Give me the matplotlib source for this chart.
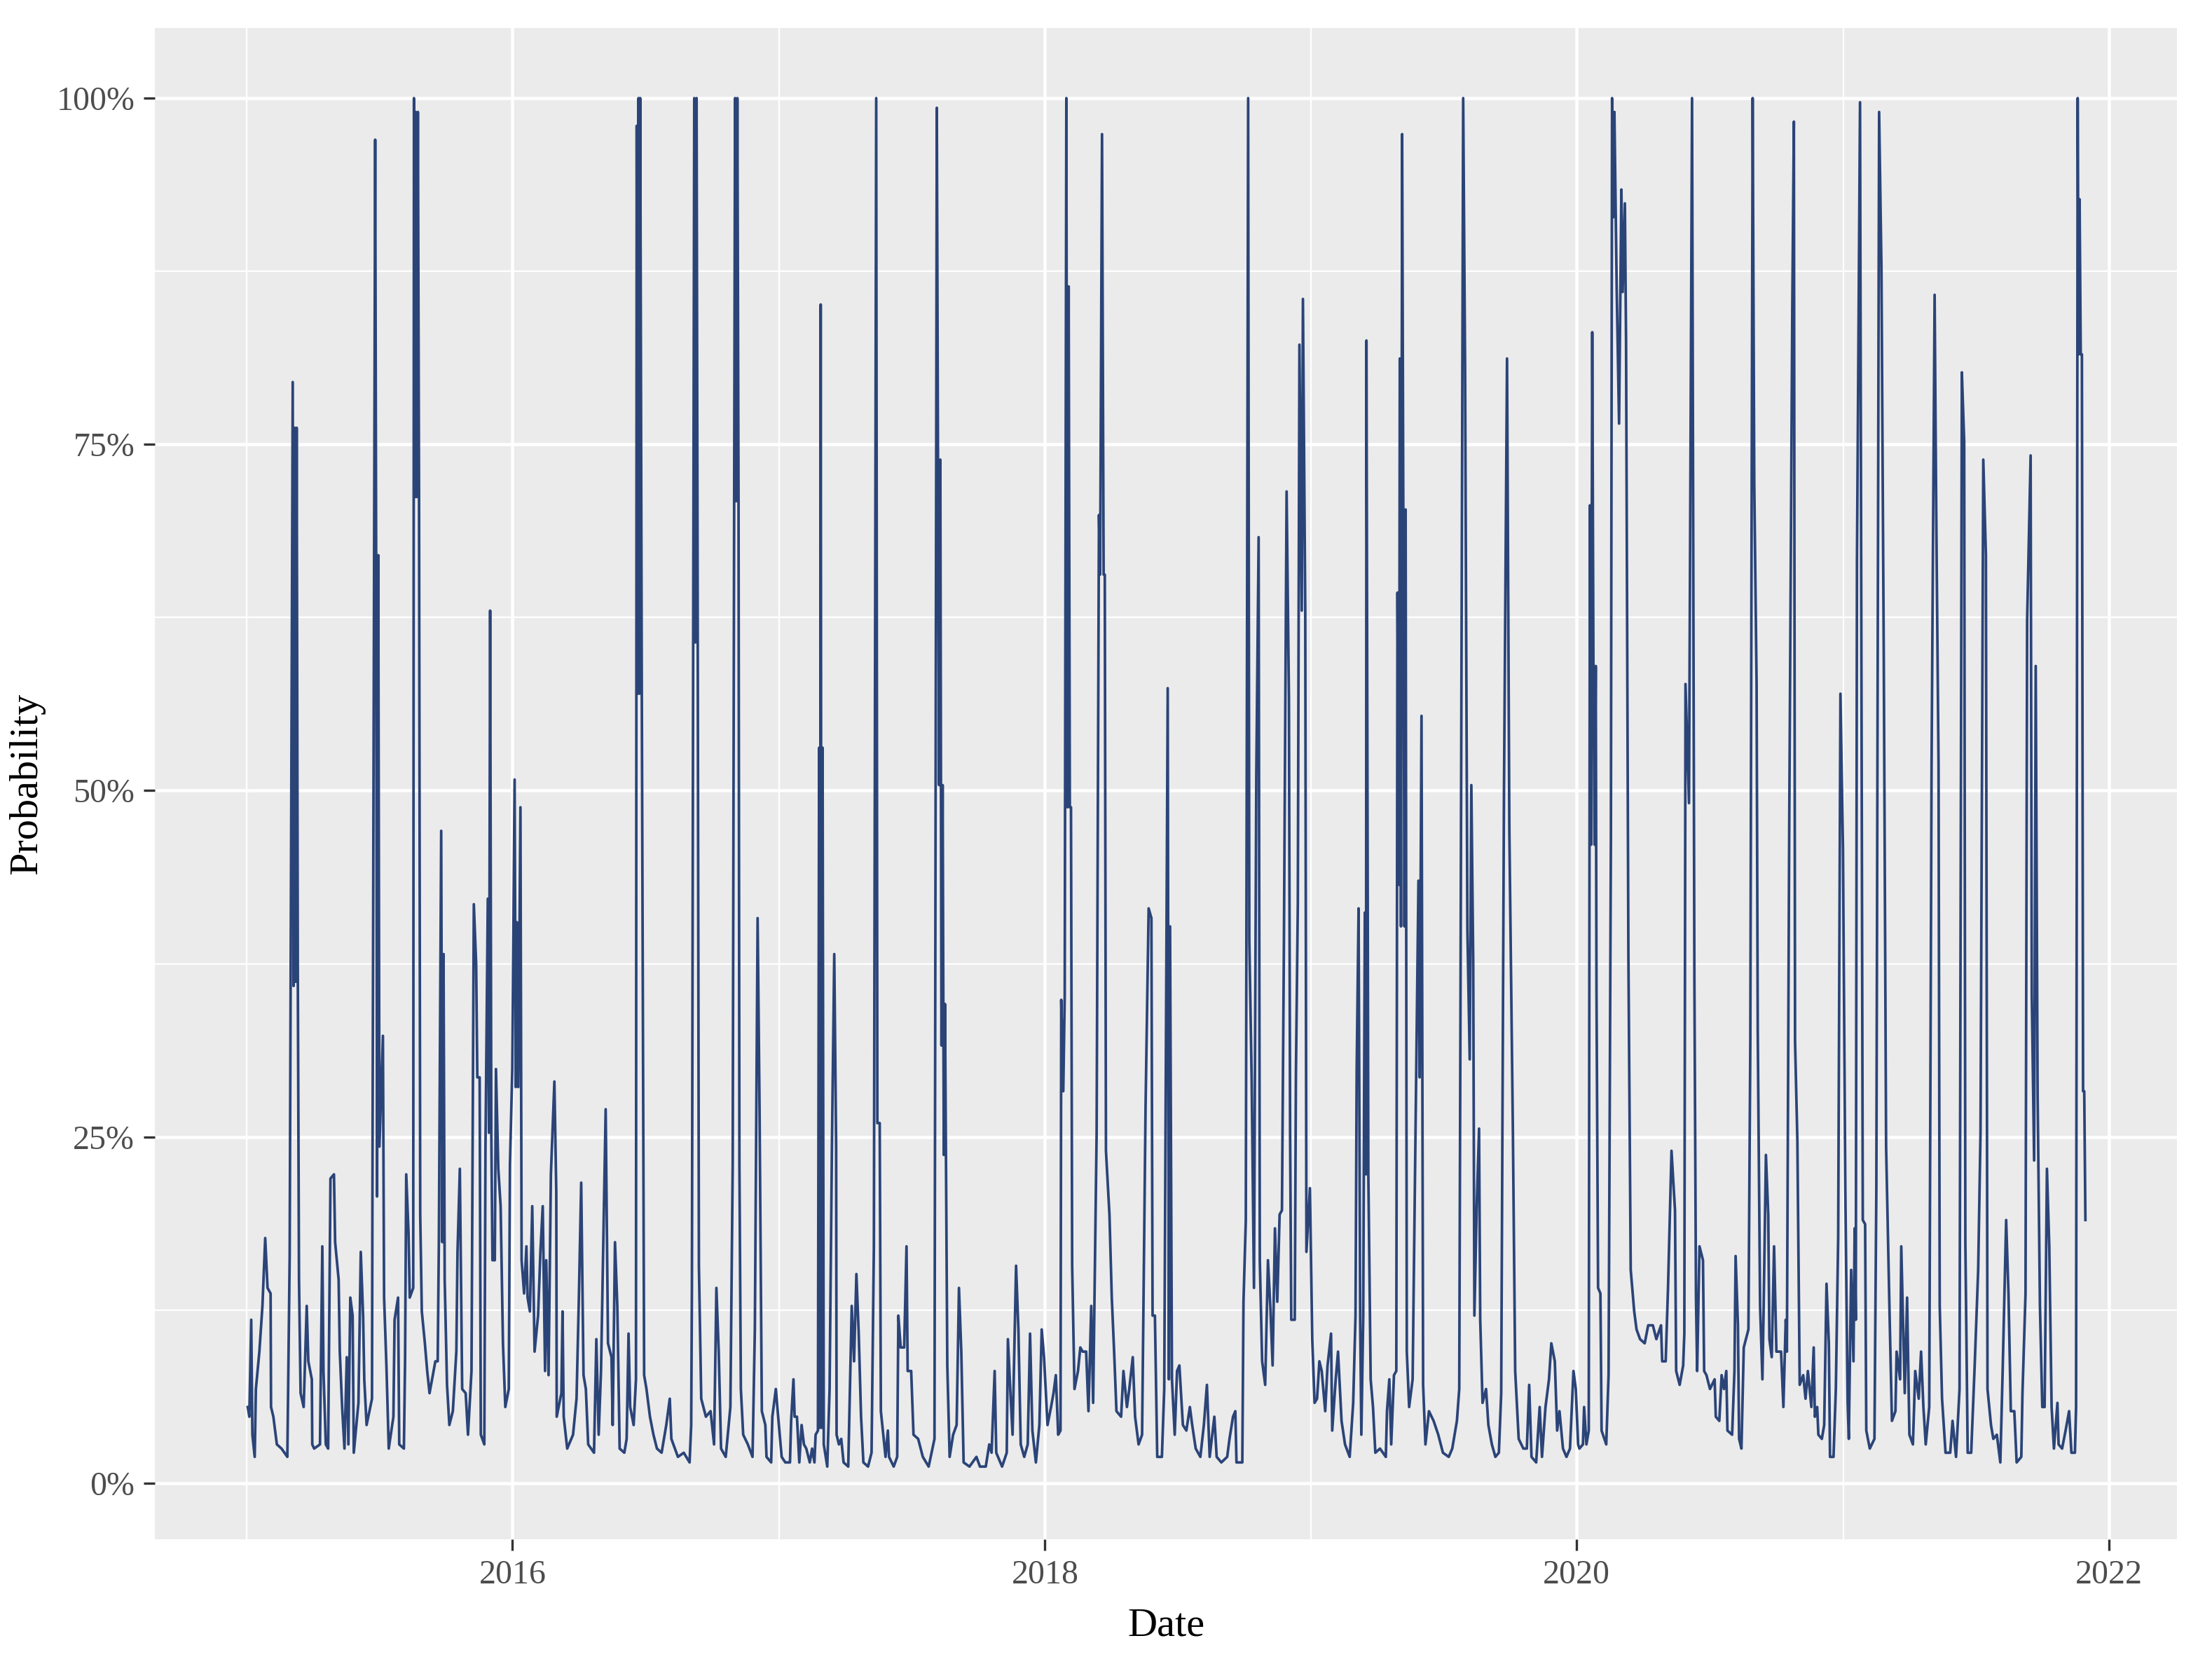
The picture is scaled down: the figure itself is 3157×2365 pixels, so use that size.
import pandas as pd
import matplotlib
matplotlib.use("Agg")
import matplotlib.pyplot as plt
from matplotlib.ticker import FixedLocator, FuncFormatter

# series: day offset from 2014-12-30 and probability (%)
days_2015 = [3.5, 5.7, 8.3, 9.9, 13.1, 14.7, 19.5, 23.7, 27.5, 30.7, 34.9, 35.5, 38.7, 43.5, 49.9, 57.9, 61.1, 65.3, 66.5, 67.8,
             69.1, 70.7, 72.3, 73.9, 76.1, 80.3, 84.5, 86.7, 91.5, 92.1, 94.7, 102.7, 105.9, 107.5, 110.7, 113.9, 117.1, 121.9, 123.5, 128.3,
             129.9, 133.1, 136.3, 139.5, 141.7, 144.3, 147.5, 149.1, 155.5, 158.7, 161.9, 163.5, 166.7, 174.1, 174.7, 178.5, 179.8, 181.1, 182.7, 184.3,
             189.1, 190.7, 193.9, 197.1, 203.5, 205.1, 209.9, 211.5, 217.9, 219.5, 221.1, 224.3, 225.9, 230.7, 231.7, 232.9, 234.2, 235.5, 237.1, 238.7,
             240.3, 242.5, 246.7, 249.9, 253.1, 261.1, 264.3, 265.9, 269.1, 270.7, 272.3, 273.9, 277.1, 280.3, 285.1, 289.9, 291.5, 294.7, 297.9, 302.7,
             305.9, 310.7, 313.9, 317.1, 318.7, 321.9, 323.5, 328.3, 329.9, 333.1, 334.7, 336.3, 337.9, 339.5, 342.7, 344.3, 347.5, 350.7, 353.9, 357.1,
             361.9, 363.5, 366.7, 369.9, 371.5, 373.1, 375.0, 377.9, 379.5]
prob_2015 = [5.5, 4.8, 11.8, 3.5, 1.9, 6.8, 9.5, 12.8, 17.7, 14.1, 13.7, 5.5, 4.8, 2.8, 2.5, 1.9, 16.4, 79.5, 35.9, 76.2,
             36.2, 76.2, 36.2, 14.7, 6.5, 5.5, 12.8, 8.8, 7.5, 2.8, 2.5, 2.8, 17.1, 8.1, 2.8, 2.5, 22.0, 22.3, 17.4, 14.7,
             9.5, 5.5, 2.5, 9.1, 2.8, 13.4, 12.1, 2.2, 5.8, 16.7, 12.1, 7.5, 4.2, 6.1, 20.7, 97.0, 67.0, 20.7, 67.0, 24.3,
             32.3, 13.4, 8.5, 2.5, 4.8, 11.8, 13.4, 2.8, 2.5, 8.8, 22.3, 18.0, 13.4, 14.1, 100, 71.2, 99.0, 71.2, 99.0, 71.2,
             19.4, 12.4, 10.1, 8.1, 6.5, 8.8, 8.8, 17.4, 47.1, 17.4, 38.2, 14.7, 7.1, 4.2, 5.2, 9.5, 16.7, 22.7, 6.8, 6.5,
             3.5, 8.1, 41.8, 37.5, 29.3, 29.3, 3.5, 2.8, 24.3, 42.2, 25.3, 63.0, 25.3, 16.1, 16.1, 29.9, 22.7, 20.0, 10.1, 5.5,
             6.8, 23.0, 29.9, 50.8, 28.6, 40.5, 28.6, 48.8, 16.1]

days_2016 = [382.9, 386.1, 387.7, 390.9, 394.1, 397.3, 402.1, 405.3, 408.5, 411.7, 413.3, 416.5, 419.7, 424.5, 427.1, 427.7, 434.1, 435.7, 437.3, 442.1,
             450.1, 454.9, 458.1, 461.3, 464.5, 467.7, 470.9, 478.9, 482.1, 485.3, 488.5, 491.7, 494.9, 498.1, 502.9, 504.5, 507.7, 510.9, 514.1, 520.5,
             523.7, 526.3, 528.5, 533.3, 536.5, 537.5, 538.7, 540.0, 541.3, 542.3, 544.5, 547.7, 550.9, 555.7, 560.5, 565.3, 571.7, 578.1, 582.9, 585.1,
             594.1, 602.1, 610.1, 612.3, 613.3, 616.5, 618.1, 619.7, 621.3, 622.9, 626.1, 632.5, 638.9, 643.7, 646.9, 650.1, 653.3, 659.7, 666.1, 669.3,
             672.5, 674.1, 675.7, 677.3, 678.5, 680.5, 683.7, 690.1, 696.5, 699.7, 703.5, 706.1, 709.3, 714.1, 715.7, 722.1, 723.7, 728.5, 731.7, 736.5]
prob_2016 = [13.7, 17.1, 13.4, 12.4, 20.0, 9.5, 12.1, 16.7, 20.0, 8.1, 16.1, 7.8, 22.3, 29.0, 21.0, 4.8, 6.5, 12.4, 4.8, 2.5,
             3.5, 6.1, 13.4, 21.7, 7.8, 6.8, 2.8, 2.2, 10.4, 3.5, 8.1, 17.7, 27.0, 10.1, 9.1, 4.2, 17.4, 12.8, 2.5, 2.2,
             3.2, 10.8, 5.5, 4.2, 7.5, 98.0, 57.0, 100, 57.0, 100, 57.0, 7.8, 6.8, 4.8, 3.5, 2.5, 2.2, 4.2, 6.1, 3.2,
             1.9, 2.2, 1.5, 4.2, 14.1, 100, 60.7, 100, 60.7, 15.7, 6.1, 4.8, 5.2, 2.8, 14.1, 9.5, 2.5, 1.9, 5.5, 23.0,
             100, 70.9, 100, 70.9, 23.0, 6.8, 3.5, 2.8, 1.9, 11.1, 40.8, 27.3, 5.2, 4.2, 1.9, 1.5, 4.8, 6.8, 4.8, 1.9]

days_2017 = [741.5, 747.9, 749.5, 752.7, 754.3, 757.5, 760.7, 763.9, 767.1, 770.3, 775.1, 778.3, 781.5, 783.1, 786.3, 787.9, 789.0, 790.1, 791.4, 792.7,
             794.3, 799.1, 802.3, 805.5, 808.7, 811.3, 811.9, 815.1, 818.3, 821.5, 827.9, 832.7, 835.9, 839.1, 842.3, 845.5, 848.7, 855.1, 859.9, 863.1,
             866.3, 867.9, 871.1, 872.7, 879.1, 882.3, 883.9, 890.3, 895.1, 896.7, 899.9, 904.7, 907.9, 909.5, 914.3, 917.5, 923.9, 930.3, 938.3, 946.3,
             949.5, 951.1, 952.7, 954.3, 955.9, 957.5, 959.1, 960.7, 963.9, 967.1, 971.9, 976.7, 979.9, 983.1, 986.3, 994.3, 1003.9, 1008.7, 1016.7, 1021.5,
             1024.7, 1028.9, 1031.1, 1039.1, 1045.5, 1047.1, 1050.3, 1053.5, 1058.3, 1061.5, 1064.7, 1069.5, 1074.3, 1077.5, 1080.7, 1085.5, 1090.3, 1093.5,
             1096.7, 1101.5, 1106.3]
prob_2017 = [1.5, 1.5, 4.5, 7.5, 4.8, 4.8, 1.5, 4.2, 2.8, 2.5, 1.5, 2.5, 1.5, 3.5, 3.8, 53.1, 4.0, 85.1, 4.0, 53.1,
             2.8, 1.2, 6.8, 24.3, 38.2, 24.3, 3.5, 2.8, 3.2, 1.5, 1.2, 12.8, 8.8, 15.1, 10.8, 4.8, 1.5, 1.2, 2.2, 17.1,
             100, 26.0, 26.0, 5.2, 1.9, 3.8, 1.9, 1.2, 1.9, 12.1, 9.8, 9.8, 17.1, 8.1, 8.1, 3.5, 3.2, 1.9, 1.2, 3.2,
             99.3, 73.9, 50.4, 73.9, 31.6, 50.4, 23.7, 34.6, 8.5, 1.9, 3.5, 4.2, 14.1, 9.5, 1.5, 1.2, 1.9, 1.2, 1.2, 2.8,
             2.2, 8.1, 2.2, 1.2, 2.2, 10.4, 6.8, 3.5, 15.7, 11.1, 2.8, 1.9, 2.8, 10.8, 3.8, 1.5, 4.2, 11.1,
             9.1, 4.2, 5.5]

days_2018 = [1109.7, 1112.9, 1116.1, 1119.3, 1120.3, 1123.1, 1125.1, 1127.3, 1128.9, 1130.5, 1132.1, 1133.7, 1135.3, 1138.5, 1143.3, 1146.5,
             1149.7, 1154.5, 1157.7, 1161.5, 1164.1, 1168.9, 1172.1, 1173.7, 1176.3, 1178.5, 1180.1, 1181.7, 1186.5, 1189.7, 1192.9, 1196.1,
             1202.5, 1205.7, 1210.5, 1213.7, 1218.5, 1221.7, 1226.5, 1231.3, 1236.1, 1240.3, 1244.1, 1245.7, 1248.9, 1252.1, 1258.5, 1261.7,
             1266.5, 1268.1, 1269.7, 1272.3, 1276.1, 1279.3, 1282.5, 1287.3, 1292.1, 1296.9, 1300.1, 1304.9, 1311.3, 1316.1, 1320.3, 1324.1,
             1330.5, 1333.7, 1340.1, 1348.1, 1351.3, 1356.1, 1359.3, 1360.9, 1368.9, 1370.5, 1373.7, 1376.9, 1378.5, 1381.7, 1384.9, 1388.1,
             1391.3, 1392.9, 1396.1, 1400.3, 1404.1, 1407.3, 1410.5, 1413.7, 1416.9, 1420.1, 1423.3, 1425.9, 1429.7, 1432.9, 1434.5, 1436.1,
             1440.9, 1442.5, 1445.1, 1447.3, 1450.5, 1452.1, 1455.3, 1456.9, 1461.7, 1464.9, 1468.1]
prob_2018 = [6.5, 7.8, 3.5, 3.8, 34.9, 28.3, 35.2, 100, 48.8, 86.4, 48.8, 48.8, 15.7, 6.8, 8.1, 9.8,
             9.5, 9.5, 5.2, 12.8, 5.8, 25.3, 69.9, 65.6, 97.4, 65.6, 65.6, 24.0, 19.4, 13.4, 9.5, 5.2,
             4.8, 8.1, 5.5, 6.8, 9.1, 4.8, 2.8, 3.5, 27.3, 41.5, 40.8, 12.1, 12.1, 1.9, 1.9, 6.8,
             57.4, 7.5, 40.2, 7.5, 3.5, 8.1, 8.5, 4.2, 3.8, 5.5, 4.2, 2.5, 1.9, 4.2, 7.1, 1.9,
             4.8, 1.9, 1.5, 1.9, 3.2, 4.8, 5.2, 1.5, 1.5, 13.1, 19.0, 100, 39.2, 29.3, 14.1, 51.1,
             68.3, 16.1, 8.8, 7.1, 16.1, 12.8, 8.5, 18.4, 13.1, 19.4, 19.7, 38.2, 71.6, 56.7, 25.3, 11.8,
             11.8, 29.6, 41.8, 82.2, 63.0, 85.5, 63.0, 16.7, 21.3, 10.4, 5.8]

days_2019 = [1471.5, 1474.7, 1477.9, 1482.7, 1485.9, 1490.7, 1492.3, 1497.1, 1500.3, 1503.5, 1505.1, 1509.9, 1516.3, 1521.1, 1524.3, 1525.9,
             1528.5, 1530.7, 1532.3, 1534.9, 1537.1, 1538.7, 1539.3, 1541.9, 1545.1, 1548.3, 1551.5, 1557.9, 1565.9, 1567.5, 1570.7, 1573.3,
             1577.1, 1580.3, 1581.9, 1584.1, 1585.1, 1586.7, 1588.3, 1589.9, 1591.5, 1593.1, 1594.7, 1597.9, 1602.7, 1607.5, 1610.7, 1612.3,
             1614.9, 1617.1, 1620.3, 1625.1, 1631.5, 1637.9, 1644.3, 1652.3, 1657.1, 1663.5, 1666.7, 1668.3, 1672.1, 1674.7, 1677.9, 1681.1,
             1683.3, 1685.9, 1687.5, 1690.7, 1693.9, 1695.5, 1698.7, 1703.5, 1706.7, 1711.5, 1716.3, 1721.1, 1724.3, 1728.1, 1732.3, 1735.5,
             1740.3, 1743.5, 1748.3, 1754.7, 1759.5, 1762.7, 1765.9, 1772.3, 1777.1, 1780.3, 1785.1, 1789.9, 1793.1, 1797.9, 1801.1, 1804.3,
             1809.1, 1813.9, 1818.7, 1823.5, 1826.7, 1829.9]
prob_2019 = [6.1, 8.8, 8.1, 5.2, 8.5, 10.8, 3.8, 7.5, 9.5, 6.1, 4.5, 2.8, 1.9, 5.8, 12.1, 29.9,
             41.5, 11.8, 3.5, 12.1, 41.2, 22.3, 82.5, 22.3, 7.5, 5.5, 2.2, 2.5, 1.9, 5.2, 7.5, 2.8,
             7.8, 8.1, 64.3, 43.2, 81.2, 40.2, 97.4, 70.3, 40.2, 70.3, 9.5, 5.5, 7.5, 29.3, 43.5, 29.3,
             55.4, 7.1, 2.8, 5.2, 4.5, 3.5, 2.2, 1.9, 2.5, 4.5, 6.8, 32.9, 100, 80.8, 39.9, 30.6,
             50.4, 37.5, 12.1, 20.0, 25.6, 11.8, 5.8, 6.8, 4.2, 2.8, 1.9, 2.2, 6.5, 49.8, 81.2, 47.1,
             25.6, 8.1, 3.2, 2.5, 2.5, 7.1, 1.9, 1.5, 5.5, 1.9, 5.5, 7.5, 10.1, 8.8, 3.8, 5.2,
             2.5, 1.9, 2.5, 8.1, 6.8, 2.8]

days_2020 = [1831.7, 1836.5, 1838.1, 1841.3, 1844.5, 1846.1, 1847.7, 1849.3, 1850.9, 1852.5, 1854.1, 1855.1, 1857.3, 1860.5, 1862.1, 1868.5,
             1871.7, 1874.9, 1876.5, 1878.1, 1879.7, 1882.9, 1886.1, 1889.3, 1891.0, 1894.1, 1895.7, 1898.9, 1902.1, 1906.9, 1910.1, 1914.9,
             1921.3, 1926.1, 1932.5, 1937.3, 1943.7, 1945.3, 1950.1, 1953.3, 1958.1, 1962.9, 1964.5, 1969.3, 1974.1, 1975.7, 1977.3, 1982.1,
             1986.3, 1989.5, 1991.7, 1993.3, 1996.5, 2001.3, 2002.9, 2006.1, 2010.9, 2017.3, 2018.9, 2023.7, 2026.9, 2030.1, 2033.3, 2034.9,
             2041.3, 2044.5, 2046.1, 2049.3, 2050.9, 2054.1, 2057.3, 2063.7, 2066.3, 2069.5, 2071.7, 2074.9, 2076.5, 2079.7, 2082.9, 2084.5,
             2087.7, 2090.9, 2092.5, 2095.7, 2098.9, 2102.1, 2108.5, 2111.7, 2114.9, 2116.5, 2119.7, 2123.9, 2126.1, 2127.7, 2130.9, 2134.1,
             2138.9, 2142.1, 2145.3, 2150.1, 2153.3, 2154.9, 2158.1, 2159.7, 2164.5, 2167.7, 2170.9, 2174.1, 2175.7, 2180.5, 2183.7, 2186.9]
prob_2020 = [2.5, 2.8, 5.5, 2.8, 3.8, 70.6, 46.1, 83.1, 59.0, 46.1, 59.0, 35.6, 14.1, 13.7, 3.8, 2.8,
             7.8, 46.5, 100, 91.4, 99.0, 86.1, 76.5, 93.4, 86.0, 92.4, 82.5, 38.2, 15.4, 12.4, 11.1, 10.4,
             10.1, 11.4, 11.4, 10.4, 11.4, 8.8, 8.8, 14.1, 24.0, 19.7, 8.1, 7.1, 8.5, 10.8, 57.7, 49.1,
             100, 36.5, 13.4, 8.1, 17.1, 16.1, 8.1, 7.8, 6.8, 7.5, 4.8, 4.5, 7.8, 6.8, 8.1, 3.8,
             3.5, 8.1, 16.4, 11.4, 3.2, 2.5, 9.8, 11.1, 31.9, 100, 72.2, 57.7, 32.6, 12.8, 7.5, 12.4,
             23.7, 19.4, 10.4, 9.1, 17.1, 9.5, 9.5, 5.5, 11.8, 9.5, 47.5, 84.8, 98.3, 31.9, 24.7, 7.1,
             7.8, 6.1, 8.1, 5.5, 9.8, 4.8, 5.5, 3.5, 3.2, 4.2, 14.4, 10.1, 1.9, 1.9, 6.8, 17.7]

days_2021 = [2190.0, 2193.5, 2196.7, 2199.9, 2201.5, 2204.7, 2207.9, 2209.5, 2211.1, 2212.7, 2216.9, 2219.1, 2220.7, 2223.9, 2225.5, 2230.3,
             2236.7, 2239.3, 2243.1, 2246.3, 2249.5, 2252.7, 2257.5, 2260.7, 2265.5, 2267.1, 2271.9, 2273.5, 2278.3, 2281.5, 2284.7, 2289.5,
             2292.7, 2297.5, 2300.7, 2303.9, 2307.1, 2311.9, 2315.1, 2319.3, 2321.5, 2324.7, 2326.3, 2329.5, 2334.3, 2340.7, 2343.9, 2348.7,
             2353.5, 2356.7, 2359.9, 2361.5, 2364.7, 2369.5, 2374.3, 2379.1, 2382.3, 2386.1, 2389.7, 2391.9, 2396.7, 2399.9, 2404.7, 2409.5,
             2412.7, 2417.5, 2420.7, 2423.9, 2428.7, 2431.9, 2438.3, 2439.9, 2444.1, 2446.3, 2451.1, 2452.7, 2455.9, 2458.1, 2460.7, 2463.9,
             2467.1, 2470.3, 2473.5, 2476.7, 2479.9, 2483.1, 2487.9, 2489.5, 2494.3, 2499.1, 2503.9, 2507.1, 2511.9, 2513.5, 2515.7, 2517.0,
             2518.3, 2519.9, 2521.5, 2523.1, 2524.7, 2526.3]
prob_2021 = [57.0, 45.8, 21.3, 5.8, 3.2, 15.4, 8.8, 18.4, 11.8, 66.6, 99.7, 53.1, 19.0, 18.7, 3.8, 2.5,
             3.2, 21.3, 99.0, 87.8, 59.7, 24.3, 12.1, 4.5, 5.2, 9.5, 7.5, 17.1, 6.5, 13.4, 3.5, 2.8,
             8.1, 6.1, 9.5, 5.5, 2.8, 5.5, 51.8, 85.8, 70.3, 51.8, 12.8, 6.1, 2.2, 2.2, 4.5, 1.9,
             6.8, 80.2, 75.2, 17.4, 2.2, 2.2, 8.5, 15.4, 25.3, 73.9, 67.0, 6.8, 4.2, 3.2, 3.5, 1.5,
             8.1, 19.0, 13.7, 5.2, 5.2, 1.5, 1.9, 6.5, 13.7, 62.3, 74.2, 35.2, 23.3, 59.0, 28.0, 12.8,
             5.5, 5.5, 22.7, 17.1, 5.5, 2.5, 5.8, 2.8, 2.5, 3.8, 5.2, 2.2, 2.2, 5.5, 100, 81.5,
             92.7, 81.5, 81.5, 28.3, 28.3, 19.0]

y_ticks = [0, 25, 50, 75, 100]
x_major_years = ["2016", "2018", "2020", "2022"]
x_minor_years = ["2015", "2017", "2019", "2021"]

days = days_2015 + days_2016 + days_2017 + days_2018 + days_2019 + days_2020 + days_2021
prob = prob_2015 + prob_2016 + prob_2017 + prob_2018 + prob_2019 + prob_2020 + prob_2021
df = pd.DataFrame({"Date": pd.Timestamp("2014-12-30") + pd.to_timedelta(days, unit="D"),
                   "Probability": prob})

plt.rcParams["font.family"] = ["Liberation Serif", "DejaVu Serif"]

W, H = 3157, 2365
fig = plt.figure(figsize=(W / 300, H / 300), dpi=300)
fig.patch.set_facecolor("white")
ax = fig.add_axes([221 / W, 1 - 2197 / H, (3107 - 221) / W, (2197 - 40) / H])
ax.set_facecolor("#EBEBEB")
ax.set_axisbelow(True)

ax.plot(df["Date"], df["Probability"], color="#2B4478", lw=0.9)

# ggplot style expansion of the scales
ax.set_xlim(pd.Timestamp("2014-08-28"), pd.Timestamp("2022-04-04"))
ax.set_ylim(-4.05, 105.06)

ax.xaxis.set_major_locator(FixedLocator(matplotlib.dates.date2num(pd.to_datetime(x_major_years))))
ax.xaxis.set_minor_locator(FixedLocator(matplotlib.dates.date2num(pd.to_datetime(x_minor_years))))
ax.xaxis.set_major_formatter(FuncFormatter(lambda v, p: str(matplotlib.dates.num2date(v).year)))
ax.yaxis.set_major_locator(FixedLocator(y_ticks))
ax.yaxis.set_minor_locator(FixedLocator([t + 12.5 for t in y_ticks[:-1]]))
ax.yaxis.set_major_formatter(FuncFormatter(lambda v, p: "%d%%" % v))

ax.grid(which="major", color="white", lw=1.1)
ax.grid(which="minor", color="white", lw=0.55)
for s in ax.spines.values():
    s.set_visible(False)

ax.tick_params(which="major", length=3.9, width=0.8, color="#333333",
               labelcolor="#4D4D4D", labelsize=11.5, pad=3)
ax.tick_params(which="minor", length=0)

ax.set_xlabel("Date", fontsize=14, color="black")
ax.set_ylabel("Probability", fontsize=14, color="black")
# label anchors: top edge of "Date", right edge of "Probability"
ax.xaxis.set_label_coords(0.5, -0.0454)
ax.yaxis.set_label_coords(-0.0544, 0.5)

fig.savefig("out.png", dpi=300, facecolor="white")
